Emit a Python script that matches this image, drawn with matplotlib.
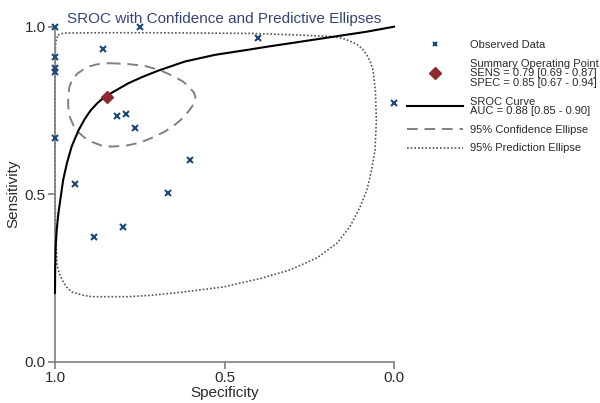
import matplotlib
matplotlib.use("Agg")
import matplotlib.pyplot as plt
from matplotlib.lines import Line2D

plt.rcParams['font.family'] = ['Liberation Sans', 'DejaVu Sans']

# ---- data (specificity, sensitivity) ----
obs_spec = [1.0, 0.749, 0.857, 0.40, 1.0, 1.0, 1.0, 1.0, 0.0, 0.818, 0.791, 0.764,
            0.602, 0.942, 0.666, 0.884, 0.798]
obs_sens = [1.0, 1.0, 0.933, 0.965, 0.91, 0.876, 0.866, 0.669, 0.771, 0.734, 0.738,
            0.699, 0.601, 0.530, 0.503, 0.373, 0.401]

summary_spec = [0.847]
summary_sens = [0.791]

sroc_spec = [1.0, 0.9995, 0.998, 0.995, 0.990, 0.983, 0.976, 0.965, 0.951, 0.931, 0.912,
             0.895, 0.875, 0.853, 0.82, 0.784, 0.74, 0.695, 0.617, 0.528, 0.425, 0.376,
             0.277, 0.179, 0.081, 0.0]
sroc_sens = [0.205, 0.274, 0.343, 0.393, 0.443, 0.493, 0.542, 0.592, 0.642, 0.690, 0.725,
             0.750, 0.772, 0.791, 0.810, 0.831, 0.851, 0.869, 0.896, 0.916, 0.932, 0.940,
             0.955, 0.970, 0.985, 1.0]

conf_spec = [0.838, 0.79, 0.735, 0.69, 0.652, 0.622, 0.602, 0.590, 0.586, 0.589, 0.599,
             0.613, 0.631, 0.652, 0.676, 0.71, 0.749, 0.79, 0.835, 0.865, 0.891, 0.913,
             0.932, 0.946, 0.956, 0.961, 0.961, 0.958, 0.950, 0.934, 0.914, 0.897, 0.879,
             0.86, 0.838]
conf_sens = [0.891, 0.889, 0.883, 0.870, 0.853, 0.836, 0.817, 0.803, 0.791, 0.773, 0.757,
             0.739, 0.720, 0.703, 0.687, 0.670, 0.654, 0.645, 0.642, 0.646, 0.656, 0.669,
             0.686, 0.706, 0.730, 0.760, 0.791, 0.818, 0.841, 0.860, 0.874, 0.882, 0.887,
             0.890, 0.891]

pred_spec = [0.991, 0.983, 0.971, 0.867, 0.720, 0.572, 0.425, 0.277, 0.189, 0.165, 0.145,
             0.125, 0.106, 0.092, 0.080, 0.070, 0.062, 0.055, 0.052, 0.056, 0.066, 0.080,
             0.100, 0.130, 0.168, 0.227, 0.307, 0.395, 0.504, 0.622, 0.720, 0.785, 0.891,
             0.92, 0.950, 0.965, 0.979, 0.988, 0.994, 0.9985, 1.0, 1.0, 0.9985, 0.996, 0.991]
pred_sens = [0.975, 0.979, 0.981, 0.982, 0.982, 0.981, 0.980, 0.975, 0.971, 0.968, 0.963,
             0.955, 0.945, 0.932, 0.916, 0.895, 0.871, 0.811, 0.722, 0.632, 0.572, 0.513,
             0.462, 0.403, 0.354, 0.310, 0.274, 0.248, 0.223, 0.208, 0.198, 0.194, 0.194,
             0.199, 0.208, 0.222, 0.244, 0.265, 0.289, 0.393, 0.632, 0.841, 0.945, 0.962,
             0.975]

xticks = [1.0, 0.5, 0.0]
yticks = [0.0, 0.5, 1.0]
tick_labels_x = ["1.0", "0.5", "0.0"]
tick_labels_y = ["0.0", "0.5", "1.0"]

title = "SROC with Confidence and Predictive Ellipses"
legend_labels = ["Observed Data",
                 "Summary Operating Point\nSENS = 0.79 [0.69 - 0.87]\nSPEC = 0.85 [0.67 - 0.94]",
                 "SROC Curve\nAUC = 0.88 [0.85 - 0.90]",
                 "95% Confidence Ellipse",
                 "95% Prediction Ellipse"]

navy = '#1d4a7c'
dred = '#8e2b2e'
txt = '#2b2b2b'
spine_c = '#7f7f7f'

fig = plt.figure(figsize=(6.0, 4.03), dpi=100)
ax = fig.add_axes([55/600, (403-361.7)/403, 339/600, 335/403])

ax.plot(pred_spec, pred_sens, color='#555555', lw=1.2, ls=(0, (1, 1.2)), clip_on=False, zorder=2)
ax.plot(conf_spec, conf_sens, color='#808080', lw=1.4, ls=(0, (5.5, 3.5)), clip_on=False, zorder=2)
ax.plot(sroc_spec, sroc_sens, color='black', lw=1.5, clip_on=False, zorder=3,
        solid_joinstyle='round')
ax.plot(obs_spec, obs_sens, ls='none', marker='x', color=navy, ms=4, mew=1.5, clip_on=False, zorder=4)
ax.plot(summary_spec, summary_sens, ls='none', marker='D', color=dred, ms=6, clip_on=False, zorder=5)

ax.set_xlim(1.0, 0.0)
ax.set_ylim(0.0, 1.0)
ax.set_xticks(xticks)
ax.set_xticklabels(tick_labels_x)
ax.set_yticks(yticks)
ax.set_yticklabels(tick_labels_y)
for s in ['top', 'right']:
    ax.spines[s].set_visible(False)
for s in ['left', 'bottom']:
    ax.spines[s].set_color(spine_c)
    ax.spines[s].set_linewidth(1.2)
ax.tick_params(axis='both', direction='out', length=5, width=1.2, color=spine_c,
               labelsize=11, labelcolor=txt, pad=1.5)
ax.set_xlabel("Specificity", fontsize=11, color=txt, labelpad=1)
ax.set_ylabel("Sensitivity", fontsize=11, color=txt, labelpad=3)
ax.set_title(title, fontsize=11, color='#34447a', pad=3)

handles = [Line2D([], [], ls='none', marker='x', color=navy, ms=3.5, mew=1.5),
           Line2D([], [], ls='none', marker='D', color=dred, ms=6),
           Line2D([], [], color='black', lw=1.5),
           Line2D([], [], color='#808080', lw=1.4, ls=(0, (5.5, 3.5))),
           Line2D([], [], color='#555555', lw=1.2, ls=(0, (1, 1.2)))]
leg = fig.legend(handles, legend_labels, loc='upper left',
                 bbox_to_anchor=(407/600, 1 - 40/403), frameon=False,
                 handlelength=5.0, handletextpad=0.7, labelspacing=0.78,
                 borderpad=0, borderaxespad=0, prop=dict(size=8))
for t in leg.get_texts():
    t.set_color(txt)
    t.set_linespacing(0.95)

fig.savefig("out.png", dpi=100)
